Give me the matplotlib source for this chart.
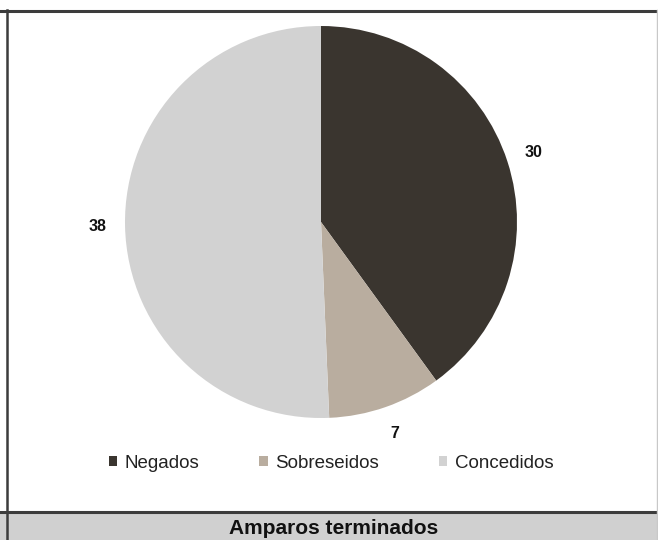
import matplotlib
matplotlib.use("Agg")
import matplotlib.pyplot as plt
from matplotlib.patches import Patch, Rectangle
from matplotlib.lines import Line2D

categories = ["Negados", "Sobreseidos", "Concedidos"]
values = [30, 7, 38]
colors = ["#3a352f", "#b9ad9f", "#d2d2d2"]
title = "Amparos terminados"

plt.rcParams['font.family'] = ['Liberation Sans', 'DejaVu Sans']

W, H = 658, 540
fig = plt.figure(figsize=(W / 100, H / 100), dpi=100)
fig.patch.set_facecolor("white")


def fx(px):
    return px / W


def fy(py):
    return 1 - py / H


# Frame and header band
fig.add_artist(Rectangle((0, 0), 1, fy(512), transform=fig.transFigure,
                         facecolor="#d0d0d0", edgecolor="none", zorder=0))
fig.add_artist(Line2D([0, 1], [fy(10.5), fy(10.5)], transform=fig.transFigure,
                      color="#3c3c3c", lw=2.2))
fig.add_artist(Line2D([0, 1], [fy(511.5), fy(511.5)], transform=fig.transFigure,
                      color="#3c3c3c", lw=2.2))
fig.add_artist(Line2D([fx(7), fx(7)], [0, fy(10)], transform=fig.transFigure,
                      color="#3c3c3c", lw=1.8))
fig.add_artist(Line2D([fx(657), fx(657)], [0, fy(10)], transform=fig.transFigure,
                      color="#c8c8c8", lw=1.0))

fig.text(fx(334), fy(529), title, ha="center", va="center",
         fontsize=15, fontweight="bold", color="#111111")

# Pie
cx, cy, r = 321, 222, 196
ax = fig.add_axes([fx(cx - r), fy(cy + r), 2 * r / W, 2 * r / H])
wedges, texts = ax.pie(values, colors=colors, startangle=90, counterclock=False,
                       labels=[str(v) for v in values], labeldistance=1.14,
                       textprops=dict(fontsize=11.5, fontweight="bold", color="#111111"),
                       wedgeprops=dict(linewidth=0))
for t in texts:
    t.set_ha("center")
    t.set_va("center")
ax.set_xlim(-1, 1)
ax.set_ylim(-1, 1)
ax.set_aspect("equal")
ax.axis("off")

handles = [Patch(facecolor=c, edgecolor="none") for c in colors]
fig.legend(handles, categories, loc="center", bbox_to_anchor=(fx(331), fy(463)),
           ncol=3, frameon=False, fontsize=13.5, handlelength=0.45, handleheight=0.45,
           handletextpad=0.4, columnspacing=3.2, labelcolor="#222222")

fig.savefig("out.png", dpi=100)
